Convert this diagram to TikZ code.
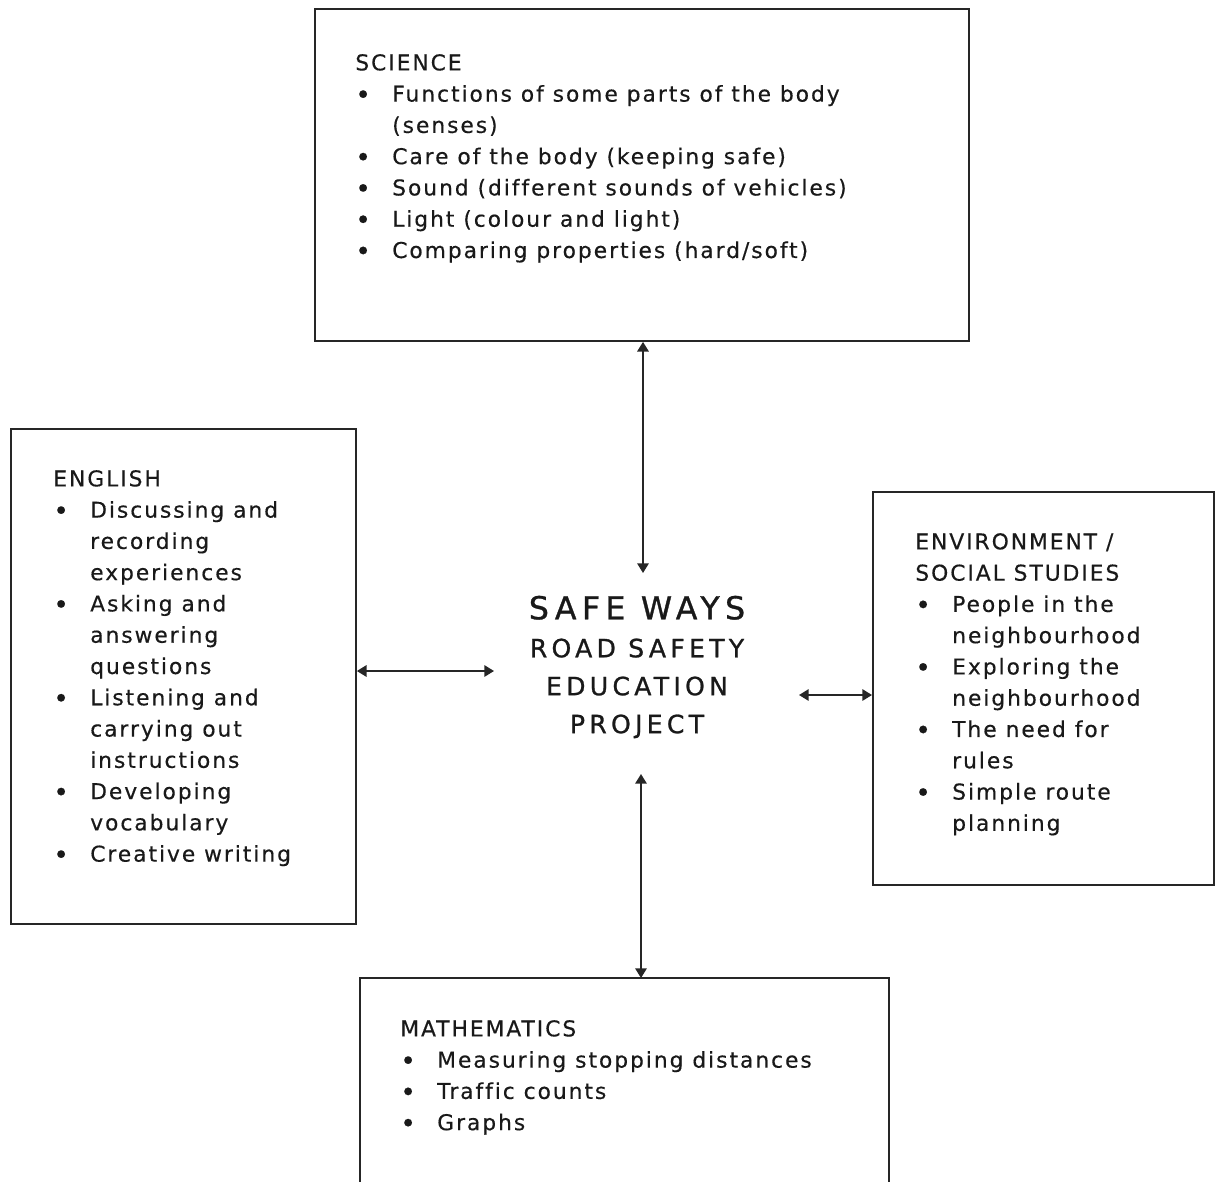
\documentclass[tikz,border=0pt]{standalone}
\usepackage{fontspec}
\setmainfont{DejaVu Sans}[LetterSpace=9, Ligatures=NoCommon, FakeBold=0.4]
\newfontfamily\titlefont{DejaVu Sans}[LetterSpace=17, Ligatures=NoCommon, FakeBold=1]
\usetikzlibrary{arrows.meta}
\newcommand{\bul}{\raisebox{-1.3pt}{\fontsize{15}{15}\selectfont\textbullet}}
\newcommand{\itm}[1]{\makebox[21pt][l]{\bul}#1}
\newcommand{\cnt}[1]{\hspace*{21pt}#1}
\tikzset{
  box/.style={draw=black!85, line width=1.1pt, anchor=north west, inner sep=0pt},
  txt/.style={anchor=north west, inner sep=0pt, align=left, font=\fontsize{12.4}{17.8}\selectfont, text=black!90},
  conn/.style={line width=1pt, draw=black!85, {Triangle[length=5.5pt,width=6.5pt]}-{Triangle[length=5.5pt,width=6.5pt]}},
}
\begin{document}
\begin{tikzpicture}[x=0.02cm, y=-0.02cm]
\useasboundingbox (0,0) rectangle (1218,1181);
% boxes
\node[box, minimum width=13.08cm, minimum height=6.64cm] (science) at (314,8) {};
\node[box, minimum width=6.9cm, minimum height=9.9cm] (english) at (10,428) {};
\node[box, minimum width=6.82cm, minimum height=7.86cm] (env) at (872,491) {};
\node[anchor=north west, inner sep=0pt, minimum width=10.56cm, minimum height=4.2cm] (math) at (360,978) {};
\draw[draw=black!85, line width=1.1pt] (math.south west) -- (math.north west) -- (math.north east) -- (math.south east);
% texts
\node[txt] (scitext) at (355,48.1) {\strut SCIENCE\\
\itm{Functions of some parts of the body}\\
\cnt{(senses)}\\
\itm{Care of the body (keeping safe)}\\
\itm{Sound (different sounds of vehicles)}\\
\itm{Light (colour and light)}\\
\itm{Comparing properties (hard/soft)}};
\node[txt] (engtext) at (53,464.1) {\strut ENGLISH\\
\itm{Discussing and}\\
\cnt{recording}\\
\cnt{experiences}\\
\itm{Asking and}\\
\cnt{answering}\\
\cnt{questions}\\
\itm{Listening and}\\
\cnt{carrying out}\\
\cnt{instructions}\\
\itm{Developing}\\
\cnt{vocabulary}\\
\itm{Creative writing}};
\node[txt] (envtext) at (915,527.1) {\strut ENVIRONMENT /\\
SOCIAL STUDIES\\
\itm{People in the}\\
\cnt{neighbourhood}\\
\itm{Exploring the}\\
\cnt{neighbourhood}\\
\itm{The need for}\\
\cnt{rules}\\
\itm{Simple route}\\
\cnt{planning}};
\node[txt] (mathtext) at (400,1014.1) {\strut MATHEMATICS\\
\itm{Measuring stopping distances}\\
\itm{Traffic counts}\\
\itm{Graphs}};
\node[inner sep=0pt, align=center, font=\titlefont\fontsize{14.3}{21.6}\selectfont, text=black!90] (title) at (637,667)
{{\fontsize{18}{22.6}\selectfont SAFE WAYS}\\ROAD SAFETY\\EDUCATION\\PROJECT};
% connector ends
\coordinate (tN) at (643,573);
\coordinate (tW) at (494,671);
\coordinate (tE) at (799,695);
\coordinate (tS) at (641,774);
\draw[conn] (science.south -| tN) -- (tN);
\draw[conn] (english.east |- tW) -- (tW);
\draw[conn] (tE) -- (env.west |- tE);
\draw[conn] (tS) -- (math.north -| tS);
\end{tikzpicture}
\end{document}
